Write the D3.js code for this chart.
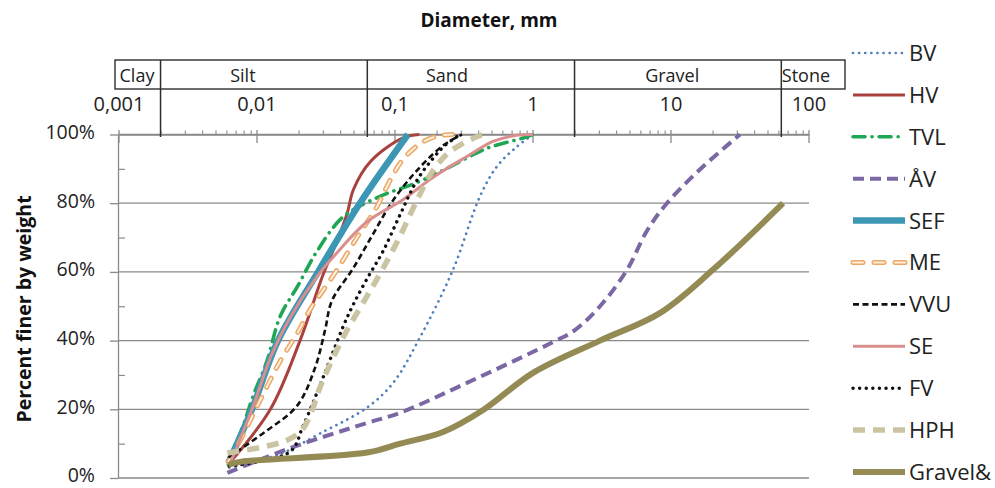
<!DOCTYPE html>
<html>
<head>
<meta charset="utf-8">
<script src="https://cdn.jsdelivr.net/npm/d3@7"></script>
<style>
  html, body { margin: 0; padding: 0; background: #fff; }
  svg { display: block; font-family: "Open Sans", "Noto Sans", sans-serif; }
</style>
</head>
<body>
<svg id="chart" width="995" height="488"></svg>
<script>
// Grain-size distribution curves: [diameter in mm, percent finer by weight]
const BV = [[0.0063,3],[0.0147,7],[0.0287,13],[0.0627,20.5],[0.097,27.7],[0.152,41],[0.263,60.6],[0.413,82],[0.548,90.7],[0.766,96.5],[1.0,100]];
const HV = [[0.0062,4],[0.0125,20],[0.0205,40],[0.030,59],[0.038,69],[0.045,77],[0.050,84],[0.066,92],[0.114,99],[0.15,100]];
const TVL = [[0.0062,4],[0.0079,15],[0.0094,24],[0.0118,34],[0.0147,47],[0.0198,56],[0.0272,66],[0.042,76],[0.078,82],[0.144,86],[0.25,90.6],[0.465,96],[0.85,99],[1.0,100]];
const AV = [[0.0061,1.5],[0.0182,9],[0.0627,16],[0.109,19],[0.332,27.7],[1.4,39.6],[2.0,43],[3.06,50],[4.8,60.6],[6.7,72],[9.35,80],[16.2,89.8],[31.6,100]];
const SEF = [[0.0062,4.4],[0.0092,20],[0.0142,40],[0.0277,60],[0.0557,80],[0.124,100]];
const ME = [[0.0062,4.7],[0.0078,12],[0.0103,21.8],[0.0147,34],[0.0195,42],[0.0242,49],[0.030,54.5],[0.038,60.6],[0.053,70],[0.074,79],[0.092,86.6],[0.114,92.7],[0.157,97.7],[0.212,99.7],[0.26,100]];
const VVU = [[0.0062,6],[0.0114,13.4],[0.0195,21],[0.0263,32],[0.0311,43],[0.0349,51.6],[0.0497,61],[0.0693,71],[0.0968,80.8],[0.144,89.5],[0.223,96.8],[0.306,100]];
const SE = [[0.0062,3],[0.0092,20],[0.0128,36],[0.0173,46.6],[0.0272,58.6],[0.038,65.6],[0.0627,74.6],[0.114,81],[0.188,87.5],[0.332,93.6],[0.513,98],[0.74,99.7],[1.0,100]];
const FV = [[0.0063,3.5],[0.0173,7.6],[0.0215,15],[0.0272,24.8],[0.0338,34.4],[0.042,44],[0.0497,50.4],[0.0627,58],[0.0818,66],[0.109,76.7],[0.144,86.6],[0.188,93],[0.23,96.8],[0.296,100]];
const HPH = [[0.0061,7.3],[0.0109,9],[0.0165,11],[0.0212,14],[0.0251,19.8],[0.0287,26.5],[0.0356,35],[0.0449,43],[0.0607,52],[0.0818,61],[0.109,70.5],[0.144,80.8],[0.185,89],[0.25,95],[0.413,99.7],[0.45,100]];
const GRAVEL = [[0.0062,3.8],[0.0075,4.7],[0.0627,7.4],[0.109,10],[0.223,13.4],[0.435,19.8],[1.0,30.6],[3.06,40],[8.3,48],[20.1,60.6],[64.9,80]];

const seriesNames = ["BV","HV","TVL","ÅV","SEF","ME","VVU","SE","FV","HPH","Gravel&"];
const seriesData = [BV, HV, TVL, AV, SEF, ME, VVU, SE, FV, HPH, GRAVEL];

// Axis content
const diameterTicks = [0.001, 0.01, 0.1, 1, 10, 100];
const diameterLabels = ["0,001", "0,01", "0,1", "1", "10", "100"];
const soilClasses = ["Clay", "Silt", "Sand", "Gravel", "Stone"];
const classBounds = [0.002, 0.063, 2, 63];
const classLabelAt = [0.00135, 0.0079, 0.238, 10.2, 95];
const percentTicks = [0, 20, 40, 60, 80, 100];
const percentMinor = [10, 30, 50, 70, 90];

// Line styles per series
const styles = {
  "BV":      {color: "#4f81bd", width: 2.7, dash: "0.1,6", cap: "round"},
  "HV":      {color: "#a9423e", width: 3},
  "TVL":     {color: "#1fa655", width: 3.6, dash: "12,7,0.1,7", cap: "round"},
  "ÅV":      {color: "#7b67a3", width: 4, dash: "11,6"},
  "SEF":     {color: "#3c97b4", width: 6.5},
  "ME":      {color: "#eba865", width: 5, dash: "10,11", cap: "round", inner: "#fdeedd", innerWidth: 2},
  "VVU":     {color: "#111111", width: 2.6, dash: "6,3.5"},
  "SE":      {color: "#d98f8e", width: 3},
  "FV":      {color: "#111111", width: 3.4, dash: "0.1,6.5", cap: "round"},
  "HPH":     {color: "#cbc4a3", width: 5.5, dash: "12,8"},
  "Gravel&": {color: "#948a54", width: 6}
};

const svg = d3.select("#chart");
const x = d3.scaleLog().domain([0.001, 100]).range([119, 809]);
const y = d3.scaleLinear().domain([0, 100]).range([478, 134.5]);
const axisGrey = "#8a8a8a";
const frame = "#2e2e2e";

// Horizontal gridlines
svg.append("g").selectAll("line").data(percentTicks).join("line")
  .attr("x1", 118).attr("x2", x(100))
  .attr("y1", d => y(d)).attr("y2", d => y(d))
  .attr("stroke", axisGrey).attr("stroke-width", 1.3);

// Left percent axis
const yAxis = svg.append("g").attr("transform", "translate(118,0)")
  .call(d3.axisLeft(y).tickValues(percentTicks).tickFormat(d => d + "%").tickSize(8).tickPadding(15).tickSizeOuter(0));
yAxis.select(".domain").attr("stroke", axisGrey).attr("stroke-width", 1.3);
yAxis.selectAll(".tick line").attr("stroke", axisGrey).attr("stroke-width", 1.3);
yAxis.selectAll(".tick text").attr("font-size", 19.5).attr("fill", "#222").attr("dy", "0.2em")
  .attr("font-family", "'Open Sans', sans-serif");

const yMinor = svg.append("g").attr("transform", "translate(118,0)")
  .call(d3.axisRight(y).tickValues(percentMinor).tickFormat("").tickSize(7).tickSizeOuter(0));
yMinor.select(".domain").remove();
yMinor.selectAll(".tick line").attr("stroke", axisGrey).attr("stroke-width", 1.2);

// Top logarithmic diameter axis
const minorDiam = [];
for (let e = -3; e < 2; e++) for (let m = 2; m <= 9; m++) minorDiam.push(m * Math.pow(10, e));
const xAxis = svg.append("g").attr("transform", "translate(0,134.5)")
  .call(d3.axisTop(x).tickValues(minorDiam).tickFormat("").tickSize(4).tickSizeOuter(0));
xAxis.select(".domain").attr("stroke", axisGrey).attr("stroke-width", 1.3);
xAxis.selectAll(".tick line").attr("stroke", axisGrey).attr("stroke-width", 1.1);

svg.append("g").selectAll("line").data(diameterTicks).join("line")
  .attr("x1", d => x(d)).attr("x2", d => x(d))
  .attr("y1", 130).attr("y2", 143)
  .attr("stroke", axisGrey).attr("stroke-width", 1.3);

// Soil class table above the axis
svg.append("rect").attr("x", 115).attr("y", 60).attr("width", 730).attr("height", 29)
  .attr("fill", "none").attr("stroke", frame).attr("stroke-width", 1.4);
svg.append("g").selectAll("line").data(classBounds).join("line")
  .attr("x1", d => x(d)).attr("x2", d => x(d))
  .attr("y1", 60).attr("y2", 137)
  .attr("stroke", frame).attr("stroke-width", 1.5);
svg.append("g").selectAll("text").data(soilClasses).join("text")
  .attr("x", (d, i) => x(classLabelAt[i])).attr("y", 82)
  .attr("text-anchor", "middle").attr("font-size", 18).attr("fill", "#222")
  .text(d => d);
svg.append("g").selectAll("text").data(diameterTicks).join("text")
  .attr("x", d => x(d)).attr("y", 111)
  .attr("text-anchor", "middle").attr("font-size", 20).attr("fill", "#222")
  .text((d, i) => diameterLabels[i]);

// Titles
svg.append("text").attr("x", 489).attr("y", 27).attr("text-anchor", "middle")
  .attr("font-size", 19).attr("font-weight", "bold").attr("fill", "#111")
  .text("Diameter, mm");
svg.append("text").attr("transform", "translate(23,309) rotate(-90)")
  .attr("text-anchor", "middle").attr("dominant-baseline", "central")
  .attr("font-size", 19.5).attr("font-weight", "bold").attr("fill", "#111")
  .text("Percent finer by weight");

// Curves, smoothed through the measured points
const line = d3.line().x(d => x(d[0])).y(d => y(d[1])).curve(d3.curveCatmullRom.alpha(0.5));

function strokeStyle(sel, s, inner) {
  sel.attr("fill", "none")
    .attr("stroke", inner ? s.inner : s.color)
    .attr("stroke-width", inner ? s.innerWidth : s.width)
    .attr("stroke-linecap", s.cap || "butt")
    .attr("stroke-linejoin", "round")
    .attr("stroke-dasharray", s.dash || null);
}

const curves = svg.append("g");
seriesNames.forEach((name, i) => {
  const s = styles[name];
  curves.append("path").datum(seriesData[i]).attr("d", line).call(strokeStyle, s, false);
  if (s.inner) curves.append("path").datum(seriesData[i]).attr("d", line).call(strokeStyle, s, true);
});

// Legend
const legend = svg.append("g");
const legendY = d3.scalePoint().domain(seriesNames).range([53, 472]);
seriesNames.forEach(name => {
  const s = styles[name];
  const ly = legendY(name);
  legend.append("line").attr("x1", 853).attr("x2", 905).attr("y1", ly).attr("y2", ly).call(strokeStyle, s, false);
  if (s.inner) legend.append("line").attr("x1", 853).attr("x2", 905).attr("y1", ly).attr("y2", ly).call(strokeStyle, s, true);
  legend.append("text").attr("x", 909).attr("y", ly).attr("dy", "0.36em")
    .attr("font-size", 22).attr("fill", "#222").text(name);
});
</script>
</body>
</html>
